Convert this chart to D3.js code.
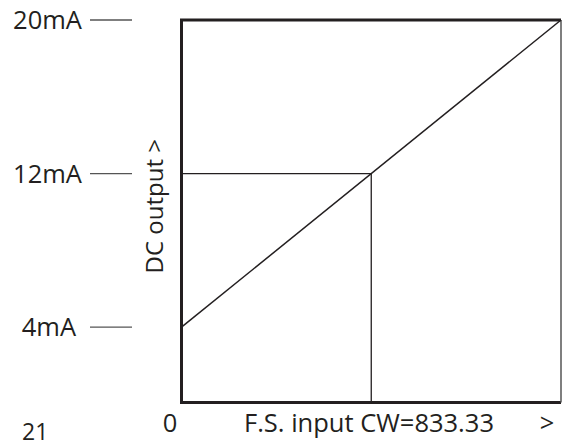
<!DOCTYPE html>
<html>
<head>
<meta charset="utf-8">
<script src="https://cdn.jsdelivr.net/npm/d3@7"></script>
<style>
  body { margin: 0; background: #fff; }
  svg { display: block; font-family: "Open Sans", "Noto Sans", sans-serif; }
</style>
</head>
<body>
<svg id="chart"></svg>
<script>
var width = 562;
var height = 447;

// data
var yTicks = [4, 12, 20];            // mA
var yTickLabels = ["4mA", "12mA", "20mA"];
var xDomain = [0, 833.33];           // F.S. input CW
var outputLine = [{x: 0, y: 4}, {x: 833.33, y: 20}];
var marker = {x: 416.665, y: 12};    // half scale -> 12mA

var ink = "#231f20";
var fs = 25.5;

var svg = d3.select("#chart")
    .attr("width", width)
    .attr("height", height);

var x = d3.scaleLinear().domain(xDomain).range([181.5, 561]);
var y = d3.scaleLinear().domain([0, 20]).range([404, 20]);

// frame: heavy left/top/bottom, light right side
svg.append("path")
    .attr("d", "M" + x(xDomain[1]) + "," + y(20) + "H" + x(0) + "V" + (y(0) - 1.5) + "H" + x(xDomain[1]))
    .attr("fill", "none")
    .attr("stroke", ink)
    .attr("stroke-width", 3);

svg.append("line")
    .attr("x1", x(xDomain[1])).attr("x2", x(xDomain[1]))
    .attr("y1", y(20)).attr("y2", y(0) - 1.5)
    .attr("stroke", "#555")
    .attr("stroke-width", 1.5);

// y ticks sit away from the frame
var tickG = svg.append("g");
tickG.selectAll("line")
    .data(yTicks)
    .enter()
    .append("line")
        .attr("x1", 90).attr("x2", 132)
        .attr("y1", d => y(d)).attr("y2", d => y(d))
        .attr("stroke", "#555")
        .attr("stroke-width", 1.3);

tickG.selectAll("text")
    .data(yTicks)
    .enter()
    .append("text")
        .attr("x", (d, i) => i == 0 ? 76 : 82)
        .attr("y", d => y(d))
        .attr("dy", "0.36em")
        .attr("text-anchor", "end")
        .attr("font-size", fs)
        .attr("fill", ink)
        .text((d, i) => yTickLabels[i]);

// output line
svg.append("path")
    .datum(outputLine)
    .attr("d", d3.line().x(d => x(d.x)).y(d => y(d.y)))
    .attr("fill", "none")
    .attr("stroke", ink)
    .attr("stroke-width", 1.5);

// 12mA guide lines
svg.append("path")
    .attr("d", "M" + x(0) + "," + y(marker.y) + "H" + x(marker.x) + "V" + (y(0) - 1.5))
    .attr("fill", "none")
    .attr("stroke", ink)
    .attr("stroke-width", 1.3);

// axis titles
svg.append("text")
    .attr("transform", "translate(163," + y(10.3) + ") rotate(-90)")
    .attr("text-anchor", "middle")
    .attr("font-size", 24)
    .attr("fill", ink)
    .text("DC output >");

svg.append("text")
    .attr("x", 170).attr("y", 432)
    .attr("text-anchor", "middle")
    .attr("font-size", fs)
    .attr("fill", ink)
    .text("0");

svg.append("text")
    .attr("x", 369).attr("y", 432)
    .attr("text-anchor", "middle")
    .attr("font-size", fs)
    .attr("fill", ink)
    .text("F.S. input CW=833.33");

svg.append("text")
    .attr("x", 547).attr("y", 432)
    .attr("text-anchor", "middle")
    .attr("font-size", fs)
    .attr("fill", ink)
    .text(">");

// page number
svg.append("text")
    .attr("x", 22).attr("y", 440)
    .attr("font-size", 23)
    .attr("fill", ink)
    .text("21");
</script>
</body>
</html>
